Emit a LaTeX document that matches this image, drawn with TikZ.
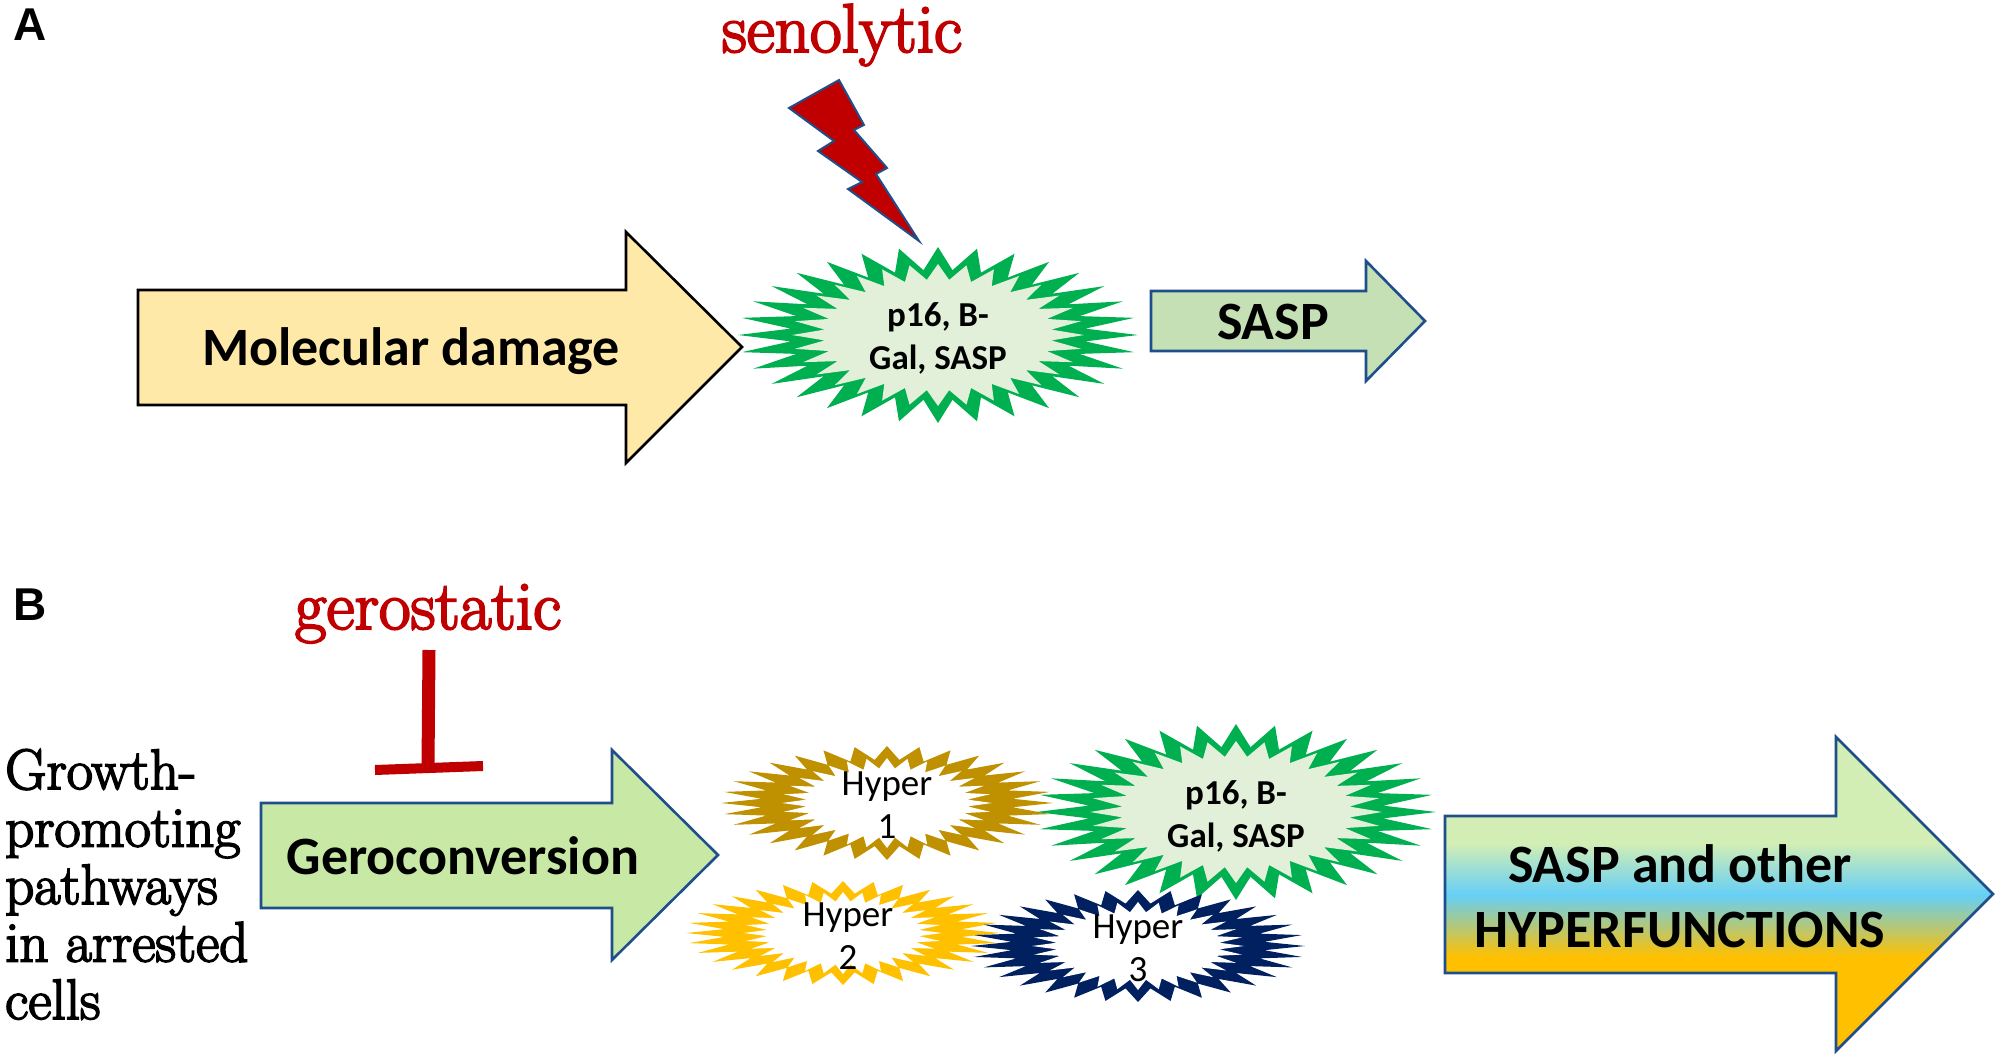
\documentclass[tikz,border=0pt]{standalone}
\usepackage{xcolor}
\usepackage{fontspec}
\newfontfamily\carlito{Carlito}
\newfontfamily\arial{Liberation Sans}
\newfontfamily\heavyserif{Latin Modern Roman}[FakeBold=3]
\usetikzlibrary{positioning}

\definecolor{damagefill}{HTML}{FFE9A8}
\definecolor{outline}{HTML}{1F4E8C}
\definecolor{darkred}{HTML}{C00000}
\definecolor{burstgreen}{HTML}{00B050}
\definecolor{burstpale}{HTML}{E2F0D9}
\definecolor{saspfill}{HTML}{C5E0B4}
\definecolor{geroconvfill}{HTML}{C8E8A5}
\definecolor{hypergold}{HTML}{BF9000}
\definecolor{hyperamber}{HTML}{FFC000}
\definecolor{hypernavy}{HTML}{002060}
\definecolor{fadetop}{HTML}{D3EEB4}
\definecolor{fadesky}{HTML}{66CFF6}

\pgfdeclareverticalshading{hyperfade}{100bp}{color(0bp)=(hyperamber); color(40bp)=(hyperamber);
  color(49.85bp)=(fadesky); color(58.15bp)=(fadetop); color(100bp)=(fadetop)}

% 32 pointed burst: centre x, centre y, tip radii x and y, notch ratio
\newcommand{\burst}[5]{plot[samples at={0,...,63}]
  ({#1+(mod(\x,2)==0?1:#5)*#3*cos(\x*5.625)},{#2+(mod(\x,2)==0?1:#5)*#4*sin(\x*5.625)}) -- cycle}

\begin{document}
\begin{tikzpicture}[
    x=1pt, y=-1pt,
    panel/.style={font=\arial\bfseries\fontsize{46}{46}\selectfont},
    drug/.style={text=darkred, anchor=base, inner sep=0pt, font=\heavyserif\fontsize{69}{69}\selectfont},
    blockarrow/.style={draw=outline, line width=2.6pt, miter limit=10},
    title/.style={anchor=base, font=\carlito\bfseries\fontsize{54}{54}\selectfont},
    bursttext/.style={align=center, font=\carlito\bfseries\fontsize{35}{43}\selectfont},
    hypertext/.style={align=center, font=\carlito\fontsize{37}{43}\selectfont},
    inhibit/.style={draw=darkred, line width=13pt}
]
    \useasboundingbox (0,0) rectangle (2000,1060);

    % Panel A
    \node[panel] (panelA) at (30,25) {A};
    \node[drug] (senolytic) at (842,52) {senolytic};

    % Lightning
    \draw[fill=darkred, draw=outline, line width=2pt] (839,80) -- (864,125) -- (854,130) -- (887,168)
        -- (876,174) -- (919,241) -- (848,189) -- (862,182) -- (818,151) -- (834,141) -- (789,108) -- cycle;

    % Damage arrow
    \draw[fill=damagefill, draw=black, line width=2.6pt] (138,290) -- (626,290) -- (626,232) -- (742,347)
        -- (626,463) -- (626,405) -- (138,405) -- cycle;
    \node[title] (damage) at (411,365) {Molecular damage};

    % Senescent cell
    \fill[burstgreen] \burst{938}{335}{200}{88}{0.74};
    \fill[burstpale] \burst{938}{335}{146}{71}{0.78};
    \node[bursttext] (cellA) at (938,338) {p16, B-\\Gal, SASP};

    % SASP arrow
    \draw[blockarrow, fill=saspfill] (1151,291) -- (1366,291) -- (1366,261) -- (1425,321)
        -- (1366,381) -- (1366,351) -- (1151,351) -- cycle;
    \node[title] (sasp) at (1273,339) {SASP};

    % Panel B
    \node[panel] (panelB) at (30,605) {B};
    \node[drug] (gerostatic) at (428,629) {gerostatic};

    % Block
    \coordinate (stemtop) at (429,650);
    \coordinate (stemfoot) at (428,767);
    \coordinate (barleft) at (375,770);
    \coordinate (barright) at (483,766);
    \draw[inhibit] (stemtop) -- (stemfoot);
    \draw[inhibit, line width=10pt] (barleft) -- (barright);

    \node[font=\heavyserif\fontsize{57}{57.5}\selectfont, align=left, anchor=north west, inner sep=0pt] (pathways)
        at (5,749) {Growth-\\promoting\\pathways\\in arrested\\cells};

    % Geroconversion arrow
    \draw[blockarrow, fill=geroconvfill] (261,803) -- (612,803) -- (612,750) -- (718,855)
        -- (612,960) -- (612,908) -- (261,908) -- cycle;
    \node[title] (geroconv) at (463,874) {Geroconversion};

    % Bursts
    \fill[hypergold] \burst{887}{803}{166}{57}{0.76};
    \fill[white] \burst{887}{803}{105}{45}{0.77};
    \node[hypertext] (hyperone) at (887,805) {Hyper\\1};

    \fill[burstgreen] \burst{1236}{812}{200}{88}{0.74};
    \fill[burstpale] \burst{1236}{812}{146}{71}{0.78};
    \node[bursttext] (cellB) at (1236,816) {p16, B-\\Gal, SASP};

    \fill[hyperamber] \burst{843}{933}{157}{52}{0.76};
    \fill[white] \burst{843}{933}{99}{41}{0.77};
    \node[hypertext] (hypertwo) at (848,936) {Hyper\\2};

    \fill[hypernavy] \burst{1138}{946}{167}{56}{0.76};
    \fill[white] \burst{1138}{946}{106}{44}{0.77};
    \node[hypertext] (hyperthree) at (1138,948) {Hyper\\3};

    % Output arrow
    \draw[blockarrow, shading=hyperfade, shade] (1445,816) -- (1836,816) -- (1836,737) -- (1993,894)
        -- (1836,1051) -- (1836,973) -- (1445,973) -- cycle;
    \node[align=center, font=\carlito\bfseries\fontsize{54}{65}\selectfont] (output) at (1680,896) {SASP and other\\HYPERFUNCTIONS};
\end{tikzpicture}
\end{document}
